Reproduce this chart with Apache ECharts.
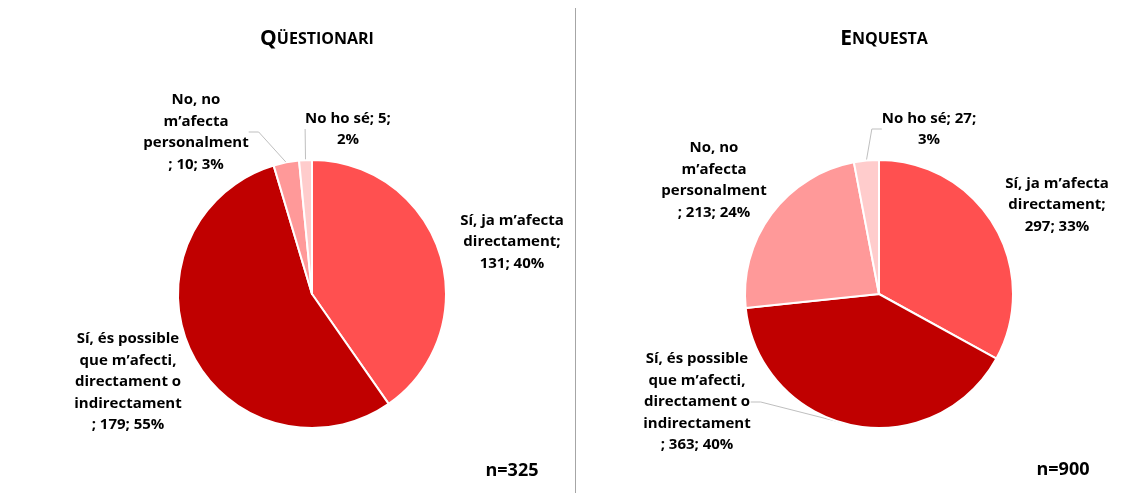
<!DOCTYPE html>
<html>
<head>
<meta charset="utf-8">
<script src="https://cdn.jsdelivr.net/npm/echarts@6/dist/echarts.min.js"></script>
<style>
  html, body { margin: 0; padding: 0; background: #fff; }
  #main { width: 1134px; height: 493px; }
</style>
</head>
<body>
<div id="main"></div>
<script>
// categories (same order in both pies, clockwise from 12 o'clock)
var categories = [
    'Sí, ja m’afecta directament',
    'Sí, és possible que m’afecti, directament o indirectament',
    'No, no m’afecta personalment',
    'No ho sé'
]
// wrapped versions for the labels, as in the original
var wrappedNames = [
    'Sí, ja m’afecta\ndirectament',
    'Sí, és possible\nque m’afecti,\ndirectament o\nindirectament',
    'No, no\nm’afecta\npersonalment',
    'No ho sé'
]
var questionariValues = [131, 179, 10, 5]
var enquestaValues = [297, 363, 213, 27]
var colors = ['#FF5050', '#C00000', '#FF9999', '#FFCCCC']

var sep1 = [';\n', '\n; ', '\n; ', '; ']
var sep2 = ['; ', '; ', '; ', ';\n']

// where each label sits (centre of the text block)
var leftLabelPos = [[512, 242], [128, 382], [196, 132], [348, 129]]
var rightLabelPos = [[1057, 205], [697, 402], [714, 180], [929, 129]]
var showLine = [false, false, true, true]
var showLineRight = [false, true, false, true]

function buildData(values, lines) {
    return values.map(function(v, i) {
        return {
            name: categories[i],
            value: v,
            itemStyle: { color: colors[i] },
            labelLine: { show: lines[i] }
        }
    })
}

function makeFormatter(values) {
    var total = values.reduce(function(a, b) { return a + b }, 0)
    return function(p) {
        var i = p.dataIndex
        var pct = Math.round(p.value / total * 100)
        return wrappedNames[i] + sep1[i] + p.value + sep2[i] + pct + '%'
    }
}

function makeLayout(pos) {
    return function(params) {
        var p = pos[params.dataIndex]
        return {
            x: p[0],
            y: p[1],
            align: 'center',
            verticalAlign: 'middle'
        }
    }
}

function pieSeries(values, center, pos, lines) {
    return {
        type: 'pie',
        radius: 134,
        center: center,
        startAngle: 90,
        clockwise: true,
        animation: false,
        silent: true,
        itemStyle: { borderColor: '#fff', borderWidth: 2 },
        label: {
            show: true,
            position: 'outside',
            formatter: makeFormatter(values),
            fontFamily: 'Open Sans',
            fontWeight: 'bold',
            fontSize: 15,
            lineHeight: 21.5,
            color: '#000',
            align: 'center'
        },
        labelLine: {
            show: true,
            length: 10,
            length2: 10,
            lineStyle: { color: '#BFBFBF', width: 1 }
        },
        labelLayout: makeLayout(pos),
        data: buildData(values, lines)
    }
}

var chart = echarts.init(document.getElementById('main'))

function titleText(first, rest) {
    return '{a|' + first + '}{b|' + rest + '}'
}
var titleRich = {
    a: { fontFamily: 'Open Sans', fontWeight: 'bold', fontSize: 21, color: '#000' },
    b: { fontFamily: 'Open Sans', fontWeight: 'bold', fontSize: 16, color: '#000' }
}

var option = {
    backgroundColor: '#fff',
    title: [
        { text: titleText('Q', 'ÜESTIONARI'), left: 312, top: 24, textAlign: 'center',
          textStyle: { rich: titleRich } },
        { text: titleText('E', 'NQUESTA'), left: 879, top: 24, textAlign: 'center',
          textStyle: { rich: titleRich } }
    ],
    graphic: [
        { type: 'line', shape: { x1: 575.5, y1: 8, x2: 575.5, y2: 493 },
          style: { stroke: '#A6A6A6', lineWidth: 1 } },
        { type: 'text', x: 512, y: 471,
          style: { text: 'n=325', font: 'bold 18px "Open Sans"', fill: '#000',
                   align: 'center', verticalAlign: 'middle' } },
        { type: 'text', x: 1063, y: 470,
          style: { text: 'n=900', font: 'bold 18px "Open Sans"', fill: '#000',
                   align: 'center', verticalAlign: 'middle' } }
    ],
    series: [
        pieSeries(questionariValues, [312, 294], leftLabelPos, showLine),
        pieSeries(enquestaValues, [879, 294], rightLabelPos, showLineRight)
    ]
}

chart.setOption(option)
</script>
</body>
</html>
